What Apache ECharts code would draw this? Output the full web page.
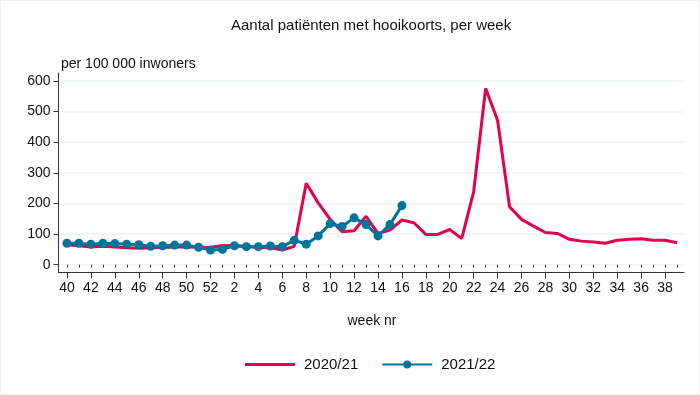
<!DOCTYPE html>
<html>
<head>
<meta charset="utf-8">
<script src="https://cdn.jsdelivr.net/npm/echarts@6/dist/echarts.min.js"></script>
<style>
html,body{margin:0;padding:0;background:#fff;}
#c{width:700px;height:395px;box-sizing:border-box;border:1px solid #f0f0f0;}
</style>
</head>
<body>
<div id="c"></div>
<script>
const weeks = [40,41,42,43,44,45,46,47,48,49,50,51,52,1,2,3,4,5,6,7,8,9,10,11,12,13,14,15,16,17,18,19,20,21,22,23,24,25,26,27,28,29,30,31,32,33,34,35,36,37,38,39];
const s2020 = [65,62,58,60,58,55,54,55,56,58,58,57,56,63,62,60,56,56,48,60,266,202,148,108,111,158,102,113,146,137,99,99,115,85,239,576,471,189,148,126,105,102,83,77,74,70,80,83,85,80,80,72];
const s2021 = [70,70,67,70,69,67,65,60,62,64,64,57,48,50,62,59,59,61,59,80,67,94,134,125,153,131,94,131,193];
const yTicks = [0,100,200,300,400,500,600];
const seriesNames = ['2020/21','2021/22'];
const title = 'Aantal patiënten met hooikoorts, per week';
const yName = 'per 100 000 inwoners';
const xName = 'week nr';

const RED = '#e5004f', BLUE = '#00759b';
const font = 'Liberation Sans, Arial, sans-serif';
const chart = echarts.init(document.getElementById('c'));
chart.setOption({
  animation:false,
  textStyle:{fontFamily:font},
  title:[
    {text:title,left:225,top:12,textStyle:{fontSize:15,fontWeight:'normal',color:'#111',fontFamily:font}},
    {text:yName,left:55,top:51,textStyle:{fontSize:14,fontWeight:'normal',color:'#111',fontFamily:font}}
  ],
  grid:[
    {left:60,right:16,top:80,bottom:395-265.7},
    {left:57.5,right:15,top:72,bottom:395-273.5}
  ],
  legend:{
    left:239,top:351,itemWidth:50,itemHeight:10,itemGap:23,
    textStyle:{fontSize:15,color:'#111',padding:[0,0,0,4]},
    data:[
      {name:seriesNames[0],icon:'path://M0,0H50V3H0Z',itemStyle:{color:RED}},
      {name:seriesNames[1]}
    ]
  },
  xAxis:[
    {gridIndex:0,type:'category',data:weeks,boundaryGap:true,offset:7.6,
     axisLine:{show:false},axisTick:{show:true,alignWithLabel:true,interval:0,length:3,lineStyle:{color:'#333'}},
     axisLabel:{show:false},splitLine:{show:false}},
    {gridIndex:0,type:'category',data:weeks,boundaryGap:true,offset:7.6,position:'bottom',
     axisLine:{show:false},axisTick:{show:true,alignWithLabel:true,interval:1,length:6,lineStyle:{color:'#333'}},
     axisLabel:{interval:1,fontSize:14,color:'#111',margin:9},
     name:xName,nameLocation:'middle',nameGap:42,nameTextStyle:{fontSize:14,color:'#111'},splitLine:{show:false}},
    {gridIndex:1,type:'value',min:0,max:1,axisLine:{show:true,lineStyle:{color:'#333',width:1}},axisTick:{show:false},axisLabel:{show:false},splitLine:{show:false}}
  ],
  yAxis:[
    {gridIndex:0,type:'value',min:0,max:600,interval:100,offset:2.5,
     axisLine:{show:false},axisTick:{show:true,length:5,lineStyle:{color:'#333'}},
     axisLabel:{fontSize:14,color:'#111',margin:8},
     splitLine:{show:true,lineStyle:{color:'#edf3f3',width:1.5}}},
    {gridIndex:1,type:'value',min:0,max:1,axisLine:{show:true,lineStyle:{color:'#333',width:1}},axisTick:{show:false},axisLabel:{show:false},splitLine:{show:false}}
  ],
  series:[
    {name:seriesNames[0],type:'line',xAxisIndex:0,yAxisIndex:0,data:s2020,showSymbol:false,symbol:'none',
     lineStyle:{color:RED,width:3},itemStyle:{color:RED},z:2},
    {name:seriesNames[1],type:'line',xAxisIndex:0,yAxisIndex:0,data:s2021,symbol:'circle',symbolSize:9,showSymbol:true,showAllSymbol:true,
     lineStyle:{color:BLUE,width:3},itemStyle:{color:BLUE},z:3}
  ]
});
</script>
</body>
</html>
